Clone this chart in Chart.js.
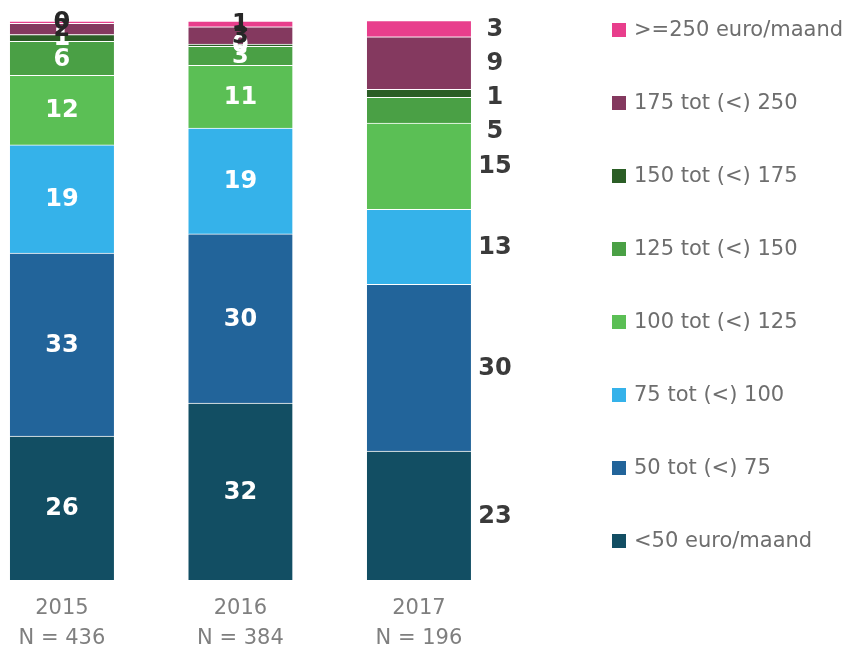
<!DOCTYPE html>
<html>
<head>
<meta charset="utf-8">
<script src="https://cdn.jsdelivr.net/npm/chart.js@4/dist/chart.umd.min.js"></script>
<style>
  html, body { margin: 0; padding: 0; background: #fff; }
  #wrap { width: 853px; height: 652px; }
</style>
</head>
<body>
<div id="wrap"><canvas id="canvas" width="853" height="652"></canvas></div>
<script>
// jaren en aantallen respondenten
var years = ['2015', '2016', '2017'];
var nLabels = ['N = 436', 'N = 384', 'N = 196'];

// aandeel (%) per kostenklasse, onder naar boven
var lt50 = [25.7, 31.6, 23.0];
var r50to75 = [32.7, 30.2, 29.8];
var r75to100 = [19.3, 18.9, 13.4];
var r100to125 = [12.4, 11.2, 15.4];
var r125to150 = [6.1, 3.4, 4.6];
var r150to175 = [1.2, 0.4, 1.4];
var r175to250 = [2.0, 3.1, 9.4];
var ge250 = [0.4, 1.0, 2.9];

var seriesNames = ['<50 euro/maand', '50 tot (<) 75', '75 tot (<) 100', '100 tot (<) 125',
	'125 tot (<) 150', '150 tot (<) 175', '175 tot (<) 250', '>=250 euro/maand'];
var seriesValues = [lt50, r50to75, r75to100, r100to125, r125to150, r150to175, r175to250, ge250];
var colors = ['#124e63', '#22649a', '#35b2ea', '#5bbf55', '#4aa045', '#2b5e26', '#84395f', '#e83e8c'];

var FONT = '"DejaVu Sans", sans-serif';

var datasets = seriesNames.map(function(name, i) {
	return {
		label: name,
		data: seriesValues[i].map(function(v, j) { return { x: j, y: v }; }),
		backgroundColor: colors[i],
		borderColor: '#ffffff',
		borderWidth: { top: 1, bottom: 0, left: 0, right: 0 },
		borderSkipped: false,
		barThickness: 104
	};
});

// getallen in en naast de staven
var valueLabels = {
	id: 'valueLabels',
	afterDatasetsDraw: function(chart) {
		var ctx = chart.ctx;
		ctx.save();
		ctx.font = 'bold 24px ' + FONT;
		ctx.textAlign = 'center';
		ctx.textBaseline = 'middle';
		var outside = [];
		chart.data.datasets.forEach(function(ds, i) {
			var meta = chart.getDatasetMeta(i);
			meta.data.forEach(function(bar, j) {
				var v = Math.round(ds.data[j].y);
				var y = (bar.y + bar.base) / 2 + 1;
				if (j === years.length - 1) {
					outside.push({ x: bar.x + bar.width / 2 + 24, y: y, text: String(v) });
					return;
				}
				ctx.fillStyle = i >= 6 ? '#262626' : '#ffffff';
				ctx.fillText(String(v), bar.x, y);
			});
		});
		outside.sort(function(a, b) { return a.y - b.y; });
		for (var k = 1; k < outside.length; k++) {
			if (outside[k].y < outside[k - 1].y + 34) outside[k].y = outside[k - 1].y + 34;
		}
		ctx.fillStyle = '#3a3a3a';
		outside.forEach(function(o) { ctx.fillText(o.text, o.x, o.y); });
		ctx.restore();
	}
};

// legenda rechts, hoogste klasse bovenaan
var sideLegend = {
	id: 'sideLegend',
	afterDraw: function(chart) {
		var ctx = chart.ctx;
		ctx.save();
		ctx.font = '21px ' + FONT;
		ctx.textAlign = 'left';
		ctx.textBaseline = 'middle';
		var n = chart.data.datasets.length;
		for (var k = 0; k < n; k++) {
			var ds = chart.data.datasets[n - 1 - k];
			var y = 30 + k * 73;
			ctx.fillStyle = ds.backgroundColor;
			ctx.fillRect(612, y - 7, 14, 14);
			ctx.fillStyle = '#6e6e6e';
			ctx.fillText(ds.label, 634, y + 1);
		}
		ctx.restore();
	}
};

new Chart(document.getElementById('canvas'), {
	type: 'bar',
	data: { datasets: datasets },
	options: {
		responsive: false,
		animation: false,
		layout: { padding: { top: 20, right: 300, left: 0, bottom: 0 } },
		plugins: {
			legend: { display: false },
			tooltip: { enabled: false }
		},
		scales: {
			x: {
				type: 'linear',
				stacked: true,
				offset: false,
				min: -0.347,
				max: 2.751,
				grid: { display: false, drawTicks: false },
				border: { display: false },
				afterBuildTicks: function(scale) {
					scale.ticks = years.map(function(y, i) { return { value: i }; });
				},
				afterFit: function(scale) { scale.height = 72; },
				ticks: {
					autoSkip: false,
					maxRotation: 0,
					padding: 14,
					color: '#7f7f7f',
					font: { family: FONT, size: 21, lineHeight: 1.43 },
					callback: function(value) { return [years[value], nLabels[value]]; }
				}
			},
			y: {
				stacked: true,
				display: false,
				min: 0,
				max: 100
			}
		}
	},
	plugins: [valueLabels, sideLegend]
});
</script>
</body>
</html>
